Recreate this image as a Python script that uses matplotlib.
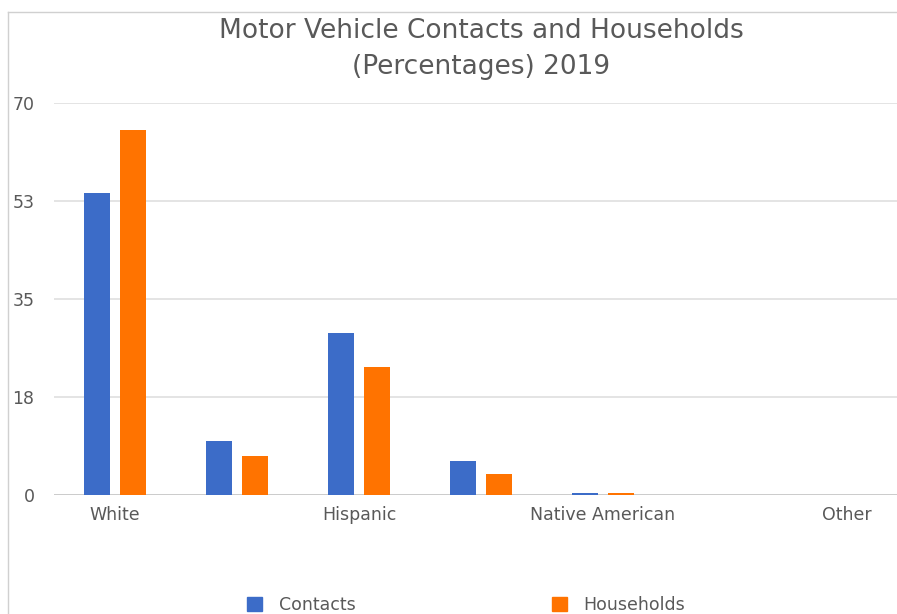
import matplotlib.pyplot as plt
import numpy as np
from matplotlib.lines import Line2D
from matplotlib.patches import Patch

# Datos
categories = ["White", "Black", "Hispanic", "Asian", "Native American", "Two or More", "Other"]
contacts = [54.0, 9.6, 28.9, 6.0, 0.4, 0, 0]
households = [65.1, 6.9, 22.9, 3.7, 0.4, 0, 0]
yticks = [0, 17.5, 35, 52.5, 70]
ytick_labels = ["0", "18", "35", "53", "70"]

blue = "#3c6cc8"
orange = "#ff7300"
grey = "#595959"

fig = plt.figure(figsize=(8.97, 6.14), dpi=100)
ax = fig.add_axes([54 / 897, 1 - 495 / 614, 854 / 897, 392 / 614])

x = np.arange(len(categories))
w = 0.215
ax.bar(x - 0.145, contacts, w, color=blue, linewidth=0, zorder=3)
ax.bar(x + 0.145, households, w, color=orange, linewidth=0, zorder=3)

ax.set_xlim(-0.5, len(categories) - 0.5)
ax.set_ylim(0, 70)
ax.set_yticks(yticks)
ax.set_yticklabels(ytick_labels)
ax.set_xticks(x[::2])
ax.set_xticklabels(categories[::2])
ax.tick_params(axis="both", length=0, colors=grey, labelsize=12.5)
ax.tick_params(axis="y", pad=14)
ax.tick_params(axis="x", pad=8)
for lbl in ax.get_yticklabels():
    lbl.set_horizontalalignment("right")

ax.grid(axis="y", color="#dcdcdc", linewidth=1.1, zorder=0)
for s in ax.spines.values():
    s.set_visible(False)
ax.axhline(0, color="#c8c8c8", linewidth=1.2, zorder=2)

fig.text(481 / 897, 1 - 49 / 614, "Motor Vehicle Contacts and Households\n(Percentages) 2019",
         ha="center", va="center", fontsize=19, color=grey, linespacing=1.45)

# marco
fig.add_artist(Line2D([8 / 897, 8 / 897], [0, 1 - 12 / 614], color="#d0d0d0", linewidth=1))
fig.add_artist(Line2D([8 / 897, 1], [1 - 12 / 614, 1 - 12 / 614], color="#d0d0d0", linewidth=1))

handles = [Patch(color=blue, label="Contacts"), Patch(color=orange, label="Households")]
fig.legend(handles=handles, loc="center", bbox_to_anchor=(466 / 897, 1 - 605 / 614), ncol=2,
           frameon=False, fontsize=12.5, labelcolor=grey, columnspacing=11.3,
           handlelength=0.9, handleheight=0.9, handletextpad=0.95)

plt.savefig("out.png", dpi=100)
